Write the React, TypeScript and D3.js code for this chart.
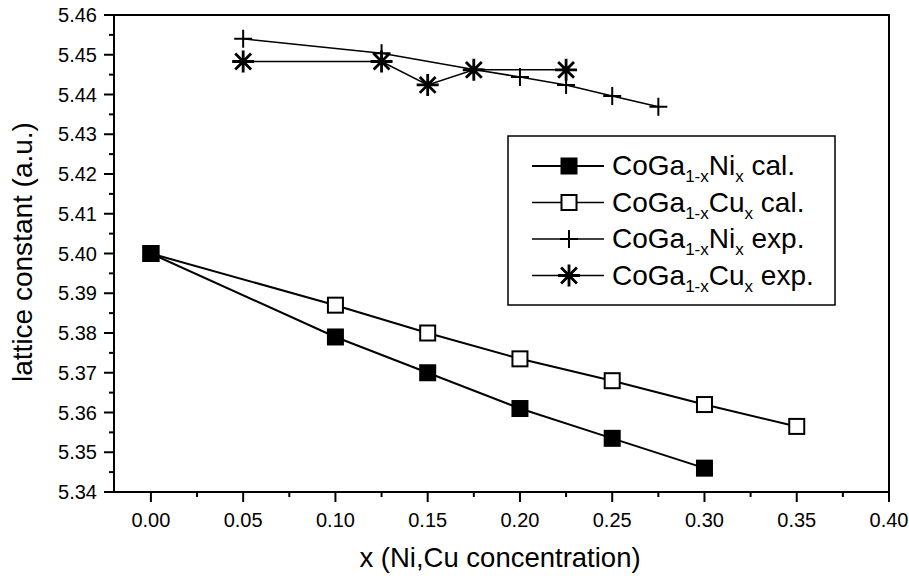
import React, { useEffect, useRef } from 'react';
import * as d3 from 'd3';

const niCalX = [0, 0.1, 0.15, 0.2, 0.25, 0.3];
const niCalY = [5.4, 5.379, 5.370, 5.361, 5.3535, 5.346];
const cuCalX = [0, 0.1, 0.15, 0.2, 0.25, 0.3, 0.35];
const cuCalY = [5.4, 5.387, 5.380, 5.3735, 5.368, 5.362, 5.3565];
const niExpX = [0.05, 0.125, 0.175, 0.2, 0.225, 0.25, 0.275];
const niExpY = [5.454, 5.4504, 5.4463, 5.4444, 5.4424, 5.4396, 5.4369];
const cuExpX = [0.05, 0.125, 0.15, 0.175, 0.225];
const cuExpY = [5.4483, 5.4483, 5.4424, 5.4462, 5.4462];

const xTicks = [0, 0.05, 0.1, 0.15, 0.2, 0.25, 0.3, 0.35, 0.4];
const yTicks = [5.34, 5.35, 5.36, 5.37, 5.38, 5.39, 5.4, 5.41, 5.42, 5.43, 5.44, 5.45, 5.46];

const legendItems = [
  { el: 'Ni', tail: ' cal.', marker: 'filled' },
  { el: 'Cu', tail: ' cal.', marker: 'open' },
  { el: 'Ni', tail: ' exp.', marker: 'plus' },
  { el: 'Cu', tail: ' exp.', marker: 'star' },
];

const font = 'Arial, "Liberation Sans", Helvetica, sans-serif';

export default function App() {
  const svgRef = useRef<SVGSVGElement>(null);

  useEffect(() => {
    if (!svgRef.current) return;
    const svg = d3.select(svgRef.current);
    svg.selectAll('*').remove();

    const left = 114, right = 889, top = 15, bottom = 492;
    const x = d3.scaleLinear().domain([-0.02, 0.4]).range([left, right]);
    const y = d3.scaleLinear().domain([5.34, 5.46]).range([bottom, top]);

    // frame
    svg.append('rect')
      .attr('x', left).attr('y', top)
      .attr('width', right - left).attr('height', bottom - top)
      .attr('fill', 'none').attr('stroke', '#000').attr('stroke-width', 2);

    // y ticks
    const yMinor = d3.range(5.345, 5.46, 0.01);
    const g = svg.append('g');
    yTicks.forEach(t => {
      g.append('line').attr('x1', left - 10).attr('x2', left)
        .attr('y1', y(t)).attr('y2', y(t)).attr('stroke', '#000').attr('stroke-width', 2);
      g.append('text').attr('x', left - 17).attr('y', y(t) + 7)
        .attr('text-anchor', 'end').attr('font-size', 20).attr('font-family', font)
        .text(t.toFixed(2));
    });
    yMinor.forEach(t => {
      g.append('line').attr('x1', left - 5).attr('x2', left)
        .attr('y1', y(t)).attr('y2', y(t)).attr('stroke', '#000').attr('stroke-width', 2);
    });

    // x ticks
    const xMinor = d3.range(-0.025, 0.4, 0.05).filter(v => v > -0.02);
    xTicks.forEach(t => {
      g.append('line').attr('x1', x(t)).attr('x2', x(t))
        .attr('y1', bottom).attr('y2', bottom + 10).attr('stroke', '#000').attr('stroke-width', 2);
      g.append('text').attr('x', x(t)).attr('y', 527)
        .attr('text-anchor', 'middle').attr('font-size', 20).attr('font-family', font)
        .text(t.toFixed(2));
    });
    xMinor.forEach(t => {
      g.append('line').attr('x1', x(t)).attr('x2', x(t))
        .attr('y1', bottom).attr('y2', bottom + 5).attr('stroke', '#000').attr('stroke-width', 2);
    });

    // axis titles
    svg.append('text').attr('x', 500).attr('y', 567)
      .attr('text-anchor', 'middle').attr('font-size', 27.5).attr('font-family', font)
      .text('x (Ni,Cu concentration)');
    svg.append('text').attr('transform', `translate(32, 252) rotate(-90)`)
      .attr('text-anchor', 'middle').attr('font-size', 28).attr('font-family', font)
      .text('lattice constant (a.u.)');

    const line = d3.line<[number, number]>().x(d => x(d[0])).y(d => y(d[1]));
    const zip = (xs: number[], ys: number[]) => xs.map((v, i) => [v, ys[i]] as [number, number]);

    const drawMarker = (sel: any, type: string, cx: number, cy: number) => {
      if (type === 'filled' || type === 'open') {
        const s = 15;
        sel.append('rect').attr('x', cx - s / 2).attr('y', cy - s / 2).attr('width', s).attr('height', s)
          .attr('fill', type === 'filled' ? '#000' : '#fff').attr('stroke', '#000').attr('stroke-width', 2);
      } else if (type === 'plus') {
        const r = 9;
        sel.append('path').attr('d', `M${cx - r},${cy}H${cx + r}M${cx},${cy - r}V${cy + r}`)
          .attr('stroke', '#000').attr('stroke-width', 2).attr('fill', 'none');
      } else {
        const r = 11, d = r * 0.72;
        sel.append('path')
          .attr('d', `M${cx - r},${cy}H${cx + r}M${cx},${cy - r}V${cy + r}M${cx - d},${cy - d}L${cx + d},${cy + d}M${cx - d},${cy + d}L${cx + d},${cy - d}`)
          .attr('stroke', '#000').attr('stroke-width', 2.8).attr('fill', 'none');
      }
    };

    const series = [
      { data: zip(niExpX, niExpY), marker: 'plus', w: 1.5 },
      { data: zip(cuExpX, cuExpY), marker: 'star', w: 1.5 },
      { data: zip(cuCalX, cuCalY), marker: 'open', w: 2 },
      { data: zip(niCalX, niCalY), marker: 'filled', w: 2 },
    ];
    series.forEach(s => {
      const sg = svg.append('g');
      sg.append('path').attr('d', line(s.data)).attr('fill', 'none')
        .attr('stroke', '#000').attr('stroke-width', s.w);
      s.data.forEach(p => drawMarker(sg, s.marker, x(p[0]), y(p[1])));
    });

    // legend
    const lg = svg.append('g');
    lg.append('rect').attr('x', 508).attr('y', 136).attr('width', 327).attr('height', 169)
      .attr('fill', '#fff').attr('stroke', '#000').attr('stroke-width', 1.5);
    legendItems.forEach((it, i) => {
      const cy = 166 + i * 36.5;
      lg.append('line').attr('x1', 532).attr('x2', 604).attr('y1', cy).attr('y2', cy)
        .attr('stroke', '#000').attr('stroke-width', it.marker === 'filled' ? 2 : 1.5);
      drawMarker(lg, it.marker, 569, cy);
      const t = lg.append('text').attr('x', 612).attr('y', cy + 9)
        .attr('font-size', 28).attr('font-family', font);
      t.append('tspan').text('CoGa');
      t.append('tspan').attr('font-size', 17).attr('dy', 7).text('1-x');
      t.append('tspan').attr('dy', -7).text(it.el);
      t.append('tspan').attr('font-size', 17).attr('dy', 7).text('x');
      t.append('tspan').attr('dy', -7).text(it.tail);
    });
  }, []);

  return (
    <svg ref={svgRef} width={909} height={576}
      style={{ position: 'absolute', left: 0, top: 0, background: '#fff' }} />
  );
}
